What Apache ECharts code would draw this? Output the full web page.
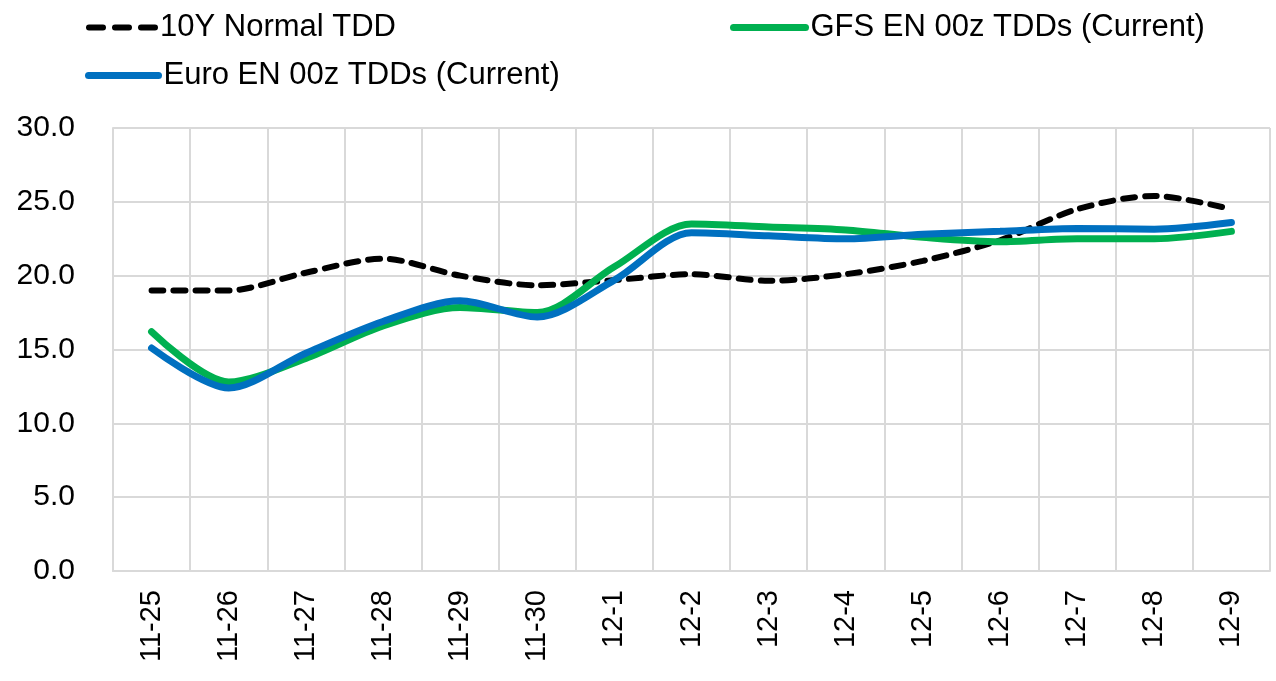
<!DOCTYPE html>
<html>
<head>
<meta charset="utf-8">
<script src="https://cdn.jsdelivr.net/npm/echarts@6/dist/echarts.min.js"></script>
<style>html,body{margin:0;padding:0;background:#fff}#c{width:1276px;height:681px}</style>
</head>
<body>
<div id="c"></div>
<script>
var categories = ['11-25','11-26','11-27','11-28','11-29','11-30','12-1','12-2','12-3','12-4','12-5','12-6','12-7','12-8','12-9'];
var normal10Y = [19.0, 19.0, 20.2, 21.15, 20.0, 19.35, 19.7, 20.1, 19.65, 20.1, 21.0, 22.4, 24.5, 25.4, 24.5];
var gfsEN = [16.2, 12.8, 14.4, 16.6, 17.85, 17.5, 20.6, 23.5, 23.3, 23.1, 22.6, 22.3, 22.5, 22.5, 23.0];
var euroEN = [15.1, 12.4, 14.75, 16.9, 18.3, 17.2, 19.7, 22.9, 22.7, 22.5, 22.8, 23.0, 23.2, 23.15, 23.6];
var yTicks = [0, 5, 10, 15, 20, 25, 30];

var chart = echarts.init(document.getElementById('c'));
var font = 'Liberation Sans, Arial, sans-serif';
function legend(name, left, top, w, dash) {
  return {
    data: [name], left: left, top: top, padding: 0, itemWidth: w, itemHeight: 14, itemGap: 0,
    textStyle: {fontFamily: font, fontSize: 31, color: '#000'},
    lineStyle: {width: 'inherit', type: dash || 'inherit', cap: 'round'},
    itemStyle: {opacity: 0},
    selectedMode: false
  };
}
chart.setOption({
  animation: false,
  backgroundColor: '#fff',
  legend: [legend('10Y Normal TDD', 86, 12, 66, [14, 12]), legend('GFS EN 00z TDDs (Current)', 730, 12, 72), legend('Euro EN 00z TDDs (Current)', 85, 60, 70)],
  grid: {left: 113, right: 6, top: 128, bottom: 110, containLabel: false},
  xAxis: {
    type: 'category', data: categories, boundaryGap: true,
    axisLine: {show: true, lineStyle: {color: '#d9d9d9', width: 2}},
    axisTick: {show: false},
    splitLine: {show: true, lineStyle: {color: '#d9d9d9', width: 2}},
    axisLabel: {rotate: 90, fontFamily: font, fontSize: 29, color: '#000', margin: 19, interval: 0}
  },
  yAxis: {
    type: 'value', min: yTicks[0], max: yTicks[yTicks.length-1], interval: 5,
    axisLine: {show: true, lineStyle: {color: '#d9d9d9', width: 2}},
    axisTick: {show: false},
    splitLine: {show: true, lineStyle: {color: '#d9d9d9', width: 2}},
    axisLabel: {fontFamily: font, fontSize: 30, color: '#000', margin: 38, formatter: function(v){return v.toFixed(1);}}
  },
  series: [
    {name: '10Y Normal TDD', type: 'line', data: normal10Y, smooth: 0.3, symbol: 'none',
     lineStyle: {color: '#000', width: 6, type: [12, 10], cap: 'round'}, itemStyle: {color: '#000'}},
    {name: 'GFS EN 00z TDDs (Current)', type: 'line', data: gfsEN, smooth: 0.3, symbol: 'none',
     lineStyle: {color: '#00B050', width: 7, cap: 'round'}, itemStyle: {color: '#00B050'}},
    {name: 'Euro EN 00z TDDs (Current)', type: 'line', data: euroEN, smooth: 0.3, symbol: 'none',
     lineStyle: {color: '#0070C0', width: 7, cap: 'round'}, itemStyle: {color: '#0070C0'}}
  ]
});
</script>
</body>
</html>
